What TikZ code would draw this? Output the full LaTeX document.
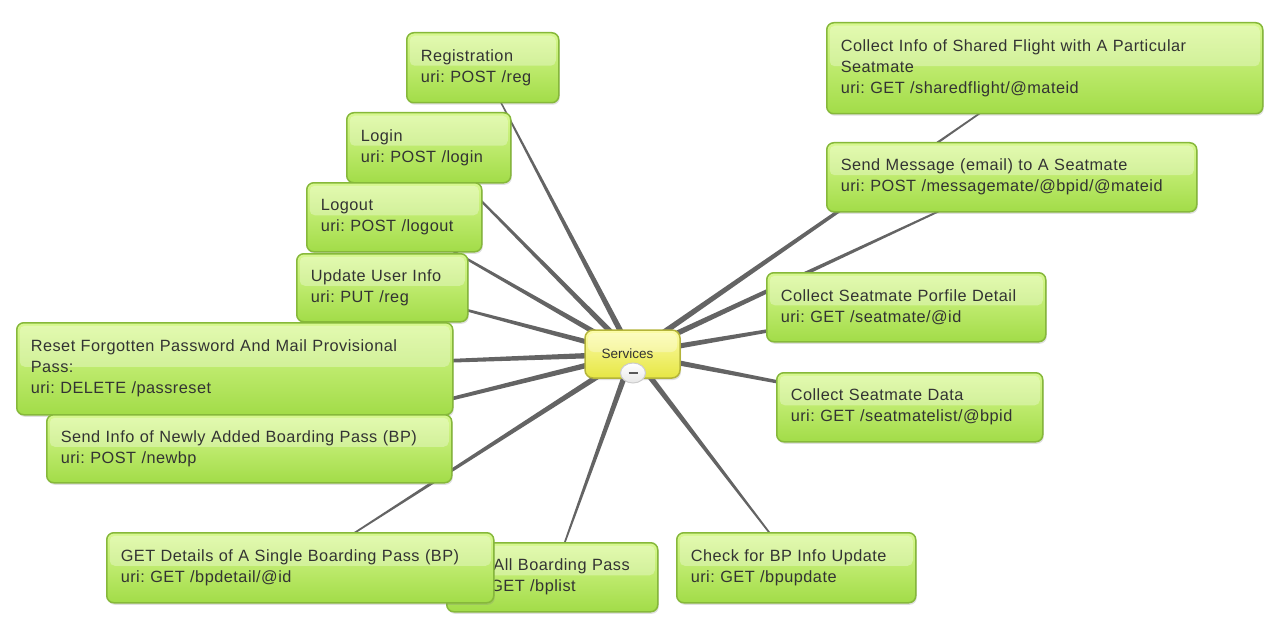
\documentclass[tikz,border=0pt]{standalone}
\usepackage{fontspec}
\setmainfont{Liberation Sans}
\newfontfamily\boxfont[LetterSpace=3]{Liberation Sans}
\usetikzlibrary{calc,shadows,shapes.geometric}
\pgfdeclarelayer{bg}
\pgfsetlayers{bg,main}
\frenchspacing
\definecolor{txt}{HTML}{333333}
\definecolor{gtop}{HTML}{D8F890}
\definecolor{gbot}{HTML}{A2DC48}
\definecolor{gbor}{HTML}{86B83A}
\definecolor{ytop}{HTML}{FCFCA8}
\definecolor{ybot}{HTML}{E6E644}
\definecolor{ybor}{HTML}{B4B43A}
\definecolor{linec}{HTML}{646464}
\newcommand\conn[2]{\fill[linec] ($(#1)!3pt!90:(#2)$) -- ($(#2)!0.45pt!-90:(#1)$) -- ($(#2)!0.45pt!90:(#1)$) -- ($(#1)!3pt!-90:(#2)$) -- cycle;}
\newcommand\bx[6]{\pgfmathsetmacro\bw{#4-#2}\pgfmathsetmacro\bh{#5-#3}\pgfmathsetmacro\tw{#4-#2-28}%
  \node[box, minimum width=\bw pt, minimum height=\bh pt, text width=\tw pt] (#1) at (#2,#3) {#6};}
\tikzset{
  box/.style={rounded corners=7pt, draw=gbor, line width=1.5pt, top color=gtop, bottom color=gbot,
    drop shadow={shadow xshift=1pt, shadow yshift=-2pt, opacity=.25},
    anchor=north west, align=left, inner xsep=14pt, inner ysep=0pt,
    font={\boxfont\fontsize{16.3}{21}\selectfont\frenchspacing}, text=txt,
    path picture={\fill[white,opacity=.3,rounded corners=5pt]
      ([xshift=3pt,yshift=-3pt]path picture bounding box.north west) rectangle
      ([xshift=-3pt,yshift=2pt]path picture bounding box.east);}},
  svcbox/.style={rounded corners=8pt, draw=ybor, line width=1.5pt, top color=ytop, bottom color=ybot,
    drop shadow={shadow xshift=1pt, shadow yshift=-2pt, opacity=.25},
    minimum width=95pt, minimum height=48pt, inner sep=0pt,
    font={\fontsize{13.5}{15}\selectfont}, text=txt,
    path picture={\fill[white,opacity=.3,rounded corners=6pt]
      ([xshift=3pt,yshift=-3pt]path picture bounding box.north west) rectangle
      ([xshift=-3pt,yshift=2pt]path picture bounding box.east);}},
  btnstyle/.style={ellipse, minimum width=25pt, minimum height=20pt, inner sep=0pt,
    draw=gray!40, line width=1pt, top color=white, bottom color=gray!18}
}
\begin{document}
\begin{tikzpicture}[x=1pt,y=-1pt]
\useasboundingbox (0,0) rectangle (1272,623);
\node[svcbox] (svc) at (632.5,354) {\hspace*{-10pt}Services};
\node[btnstyle] (btn) at (633,373) {\textcolor{gray!70!black}{\rule{9pt}{2.5pt}}};
\bx{reg}{406}{32}{558}{102}{Registration\\uri: POST /reg}
\bx{login}{346}{112}{510}{182}{Login\\uri: POST /login}
\bx{logout}{306}{182}{481}{251}{Logout\\uri: POST /logout}
\bx{upd}{296}{253}{467}{321}{Update User Info\\uri: PUT /reg}
\bx{reset}{16}{322}{452}{414}{Reset Forgotten Password And Mail Provisional\\Pass:\\uri: DELETE /passreset}
\bx{newbp}{46}{414}{451}{482}{Send Info of Newly Added Boarding Pass (BP)\\uri: POST /newbp}
\bx{bplist}{446}{542}{657}{611}{Get All Boarding Pass\\uri: GET /bplist}
\bx{bpdetail}{106}{532}{493}{602}{GET Details of A Single Boarding Pass (BP)\\uri: GET /bpdetail/@id}
\bx{bpupd}{676}{532}{915}{602}{Check for BP Info Update\\uri: GET /bpupdate}
\bx{smdata}{776}{372}{1042}{441}{Collect Seatmate Data\\uri: GET /seatmatelist/@bpid}
\bx{smprof}{766}{272}{1045}{341}{Collect Seatmate Porfile Detail\\uri: GET /seatmate/@id}
\bx{msg}{826}{142}{1196}{211}{Send Message (email) to A Seatmate\\uri: POST /messagemate/@bpid/@mateid}
\bx{shared}{826}{22}{1262}{113}{Collect Info of Shared Flight with A Particular\\Seatmate\\uri: GET /sharedflight/@mateid}
\begin{pgfonlayer}{bg}
\foreach \n in {reg,login,logout,upd,reset,newbp,bpdetail,bplist,bpupd,smdata,smprof,msg,shared}
  {\conn{svc.center}{\n.center}}
\end{pgfonlayer}
\end{tikzpicture}
\end{document}
